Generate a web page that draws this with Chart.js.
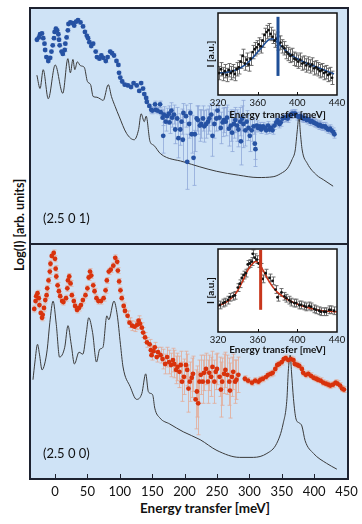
<!DOCTYPE html>
<html>
<head>
<meta charset="utf-8">
<script src="https://cdn.jsdelivr.net/npm/chart.js@4.4.1/dist/chart.umd.min.js"></script>
<style>
    body { margin: 0; width: 362px; height: 524px; background: #ffffff; position: relative; overflow: hidden; font-family: Lato, "DejaVu Sans", sans-serif; }
    #frame { position: absolute; left: 29px; top: 7px; width: 316px; height: 469px; border: 2px solid #1d2230; background: #cfe3f6; }
    #divider { position: absolute; left: 29px; top: 243px; width: 320px; height: 2px; background: #1d2230; z-index: 3; }
    canvas { position: absolute; }
    #topChart { left: 30px; top: 9px; z-index: 1; }
    #bottomChart { left: 0px; top: 245px; z-index: 1; }
    #topInset { left: 200px; top: 9px; z-index: 2; }
    #bottomInset { left: 200px; top: 245px; z-index: 2; }
    .panelLabel { position: absolute; left: 43px; font-size: 13px; color: #111; z-index: 4; }
    #yTitle { position: absolute; left: 19px; top: 225px; transform: translate(-50%, -50%) rotate(-90deg); white-space: nowrap; font-weight: bold; font-size: 12.5px; color: #111; }
    #xTitle { position: absolute; left: 0px; width: 410px; top: 500px; text-align: center; font-weight: bold; font-size: 13.5px; color: #111; }
</style>
</head>
<body>
<div id="frame"></div>
<canvas id="topChart" width="318" height="234"></canvas>
<canvas id="bottomChart" width="362" height="279"></canvas>
<canvas id="topInset" width="148" height="115"></canvas>
<canvas id="bottomInset" width="148" height="111"></canvas>
<div id="divider"></div>
<div class="panelLabel" style="top: 210px;">(2.5 0 1)</div>
<div class="panelLabel" style="top: 445px;">(2.5 0 0)</div>
<div id="yTitle">Log(I) [arb. units]</div>
<div id="xTitle">Energy transfer [meV]</div>

<script>
// oberes Panel (2.5 0 1): Messpunkte
const topEnergy = [
    -34, -31, -29, -26, -24, -22, -21, -19, -16, -13,
    -11, -9, -7, -6, -4, -2, 0, 1, 2, 5,
    7, 10, 11, 13, 15, 16, 19, 23, 25, 28,
    31, 35, 39, 42, 45, 47, 49, 52, 55, 59,
    61, 65, 68, 71, 75, 78, 82, 85, 88, 92,
    95, 96, 98, 101, 105, 110, 115, 119, 124, 128,
    131, 134, 136, 139, 140, 144, 147, 149, 153, 154,
    157, 161, 162, 165, 166, 167, 170, 172, 175, 176,
    179, 180, 183, 185, 188, 190, 193, 195, 197, 198,
    202, 204, 207, 209, 211, 214, 216, 219, 221, 224,
    226, 229, 231, 234, 237, 239, 242, 244, 247, 250,
    252, 255, 257, 260, 262, 265, 267, 270, 273, 275,
    278, 280, 283, 285, 288, 289, 291, 293, 296, 298,
    301, 303, 306, 309, 311, 312, 314, 316, 319, 321,
    324, 327, 329, 332, 334, 337, 339, 342, 345, 347,
    350, 352, 355, 358, 360, 363, 365, 368, 370, 373,
    375, 378, 381, 383, 386, 388, 391, 393, 396, 399,
    401, 404, 406, 409, 412, 414, 417, 419, 422, 424,
    427, 430, 432, 435, 437
];
const topIntensity = [
    201, 204, 208, 209, 203, 196, 188, 179, 174, 178,
    186, 194, 203, 211, 215, 213, 208, 201, 194, 186,
    183, 188, 196, 204, 213, 221, 223, 222, 219, 224,
    226, 223, 218, 211, 206, 203, 198, 193, 196, 186,
    179, 177, 181, 178, 174, 179, 186, 184, 181, 174,
    169, 159, 153, 148, 144, 143, 141, 146, 143, 136,
    146, 139, 132, 127, 122, 117, 112, 111, 119, 112,
    111, 119, 109, 102, 79, 106, 97, 104, 107, 96,
    111, 102, 106, 87, 101, 76, 87, 97, 74, 108,
    104, 46, 94, 108, 81, 51, 81, 101, 99, 92,
    94, 101, 91, 94, 97, 101, 106, 79, 94, 101,
    111, 102, 89, 96, 99, 97, 102, 88, 92, 83,
    94, 99, 92, 87, 97, 72, 101, 94, 86, 97,
    89, 79, 86, 91, 69, 62, 92, 89, 91, 87,
    91, 89, 86, 92, 87, 89, 86, 92, 96, 99,
    94, 96, 101, 102, 102, 101, 104, 106, 107, 107,
    107, 104, 103, 104, 102, 101, 101, 99, 100, 97,
    98, 96, 95, 94, 92, 93, 91, 91, 91, 89,
    87, 88, 86, 84, 81
];
const topError = [
    2, 2, 2, 2, 2, 2, 2, 2, 2, 2,
    2, 2, 2, 2, 2, 2, 2, 2, 2, 2,
    2, 2, 2, 2, 2, 2, 2, 2, 2, 2,
    2, 2, 2, 2, 2, 2, 2, 2, 2, 2,
    2, 2, 2, 2, 2, 2, 2, 2, 2, 2,
    2, 2, 2, 2, 2, 2, 2, 2, 2, 2,
    2, 2, 2, 2, 2, 2, 4, 4, 4, 4,
    4, 4, 4, 10, 22, 10, 12, 10, 10, 14,
    10, 12, 12, 18, 14, 25, 20, 16, 28, 12,
    14, 35, 18, 12, 24, 35, 22, 16, 18, 20,
    18, 16, 20, 18, 16, 16, 14, 26, 18, 16,
    12, 16, 20, 18, 16, 18, 16, 22, 20, 24,
    18, 16, 20, 22, 18, 30, 16, 30, 20, 14,
    16, 20, 14, 10, 20, 22, 6, 5, 5, 5,
    5, 5, 5, 5, 5, 5, 5, 5, 5, 5,
    5, 5, 5, 5, 5, 5, 5, 5, 5, 5,
    5, 5, 5, 5, 5, 5, 5, 5, 5, 5,
    5, 5, 5, 5, 5, 5, 5, 5, 5, 5,
    5, 5, 5, 5, 5
];
// oberes Panel: berechnete Kurve
const topSimEnergy = [
    -34, -29, -24, -16, -5, 7, 15, 19, 23, 26,
    30, 35, 41, 46, 51, 55, 61, 66, 71, 79,
    84, 90, 96, 108, 120, 127, 131, 136, 139, 145,
    151, 162, 198, 250, 285, 316, 340, 352, 363, 370,
    375, 378, 381, 383, 386, 394, 409, 420, 435
];
const topSimIntensity = [
    156, 139, 163, 126, 169, 133, 177, 159, 176, 163,
    173, 168, 166, 148, 144, 129, 128, 126, 124, 144,
    129, 116, 104, 82, 74, 87, 107, 97, 104, 72,
    67, 56, 46, 34, 29, 26, 27, 31, 38, 49,
    61, 84, 104, 84, 61, 44, 29, 23, 15
];

// unteres Panel (2.5 0 0): Messpunkte
const bottomEnergy = [
    -32, -30, -29, -27, -25, -24, -22, -20, -19, -17,
    -15, -13, -12, -10, -8, -7, -5, -2, 0, 1,
    2, 4, 6, 8, 11, 13, 17, 19, 20, 22,
    24, 26, 29, 31, 34, 37, 40, 43, 47, 50,
    52, 54, 56, 59, 61, 64, 67, 71, 75, 78,
    80, 83, 86, 90, 93, 96, 97, 99, 101, 103,
    106, 108, 112, 115, 119, 123, 127, 129, 131, 134,
    136, 139, 142, 146, 148, 149, 152, 154, 157, 159,
    163, 166, 170, 173, 176, 179, 182, 184, 187, 189,
    192, 194, 196, 199, 202, 204, 206, 208, 211, 213,
    217, 219, 221, 223, 225, 228, 230, 233, 236, 238,
    241, 243, 246, 248, 250, 254, 256, 258, 261, 263,
    266, 269, 270, 273, 275, 278, 280, 283, 293, 298,
    304, 309, 314, 317, 321, 326, 329, 333, 336, 340,
    343, 346, 350, 353, 356, 360, 364, 368, 370, 374,
    377, 381, 383, 387, 391, 395, 399, 403, 406, 410,
    414, 418, 422, 425, 429, 433, 436, 440, 443, 446
];
const bottomIntensity = [
    173, 181, 186, 189, 184, 177, 169, 164, 167, 174,
    182, 187, 194, 202, 211, 219, 227, 230, 224, 214,
    206, 197, 191, 186, 181, 180, 184, 194, 202, 206,
    199, 187, 181, 176, 172, 174, 177, 182, 187, 194,
    205, 211, 207, 197, 191, 184, 181, 181, 184, 192,
    202, 211, 213, 217, 225, 221, 212, 201, 192, 184,
    176, 171, 166, 159, 156, 155, 157, 161, 158, 154,
    149, 144, 139, 137, 131, 126, 130, 134, 124, 129,
    126, 122, 117, 124, 119, 116, 121, 117, 111, 114,
    109, 116, 99, 104, 116, 111, 92, 99, 103, 107,
    81, 89, 77, 99, 106, 99, 108, 112, 99, 108,
    104, 114, 99, 109, 112, 104, 91, 99, 107, 111,
    106, 99, 90, 104, 109, 99, 101, 106, 102, 100,
    98, 100, 99, 101, 102, 104, 106, 107, 108, 112,
    116, 117, 119, 122, 123, 121, 122, 121, 117, 116,
    115, 112, 108, 106, 107, 105, 103, 102, 101, 100,
    98, 97, 96, 95, 96, 98, 97, 95, 92, 91
];
const bottomError = [
    3, 3, 3, 3, 3, 3, 3, 3, 3, 3,
    3, 3, 3, 3, 3, 3, 3, 3, 3, 3,
    3, 3, 3, 3, 3, 3, 3, 3, 3, 3,
    3, 3, 3, 3, 3, 3, 3, 3, 3, 3,
    3, 3, 3, 3, 3, 3, 3, 3, 3, 3,
    3, 3, 3, 3, 3, 3, 3, 3, 3, 3,
    3, 3, 5, 5, 5, 5, 5, 5, 5, 5,
    5, 5, 5, 5, 5, 5, 5, 5, 5, 5,
    8, 10, 10, 10, 12, 12, 12, 14, 14, 14,
    16, 14, 20, 18, 14, 16, 24, 20, 20, 18,
    30, 26, 32, 22, 20, 22, 18, 16, 22, 18,
    20, 16, 22, 18, 16, 20, 28, 24, 20, 18,
    20, 24, 28, 20, 18, 22, 20, 18, 3, 3,
    3, 3, 3, 3, 3, 3, 3, 3, 3, 3,
    3, 3, 3, 3, 3, 3, 3, 3, 3, 3,
    3, 3, 3, 3, 3, 3, 3, 3, 3, 3,
    3, 3, 3, 3, 3, 3, 3, 3, 3, 3
];
// unteres Panel: berechnete Kurve
const bottomSimEnergy = [
    -34, -31, -27, -24, -20, -16, -12, -8, -3, 2,
    7, 15, 20, 25, 30, 37, 43, 48, 52, 58,
    64, 69, 74, 80, 83, 91, 96, 101, 105, 116,
    126, 134, 140, 144, 148, 151, 154, 162, 177, 198,
    224, 250, 285, 306, 327, 342, 352, 358, 360, 363,
    365, 368, 372, 377, 381, 386, 399, 419, 435
];
const bottomSimIntensity = [
    101, 119, 137, 127, 111, 117, 132, 159, 181, 157,
    124, 134, 156, 137, 117, 129, 127, 147, 164, 149,
    119, 132, 134, 166, 162, 181, 167, 137, 114, 94,
    81, 87, 107, 89, 87, 85, 72, 62, 56, 48,
    40, 29, 22, 22, 26, 36, 56, 82, 109, 126,
    109, 82, 61, 57, 54, 39, 26, 16, 10
];

// Einsatz oben
const insetTopEnergy = [
    321, 323, 325, 327, 329, 331, 333, 335, 337, 339,
    341, 343, 345, 347, 349, 351, 353, 355, 357, 359,
    361, 363, 365, 367, 369, 371, 373, 375, 377, 379,
    381, 383, 385, 387, 389, 391, 393, 395, 397, 399,
    401, 403, 405, 407, 409, 411, 413, 415, 417, 419,
    421, 423, 425, 427, 429, 431, 433, 435
];
const insetTopIntensity = [
    23, 27, 22, 25, 21, 26, 23, 25, 22, 27,
    29, 35, 41, 33, 37, 32, 38, 45, 48, 50,
    53, 51, 57, 63, 66, 68, 64, 61, 57, 59,
    54, 55, 51, 49, 45, 43, 41, 42, 38, 37,
    35, 37, 33, 34, 31, 33, 30, 32, 28, 29,
    27, 25, 26, 23, 24, 21, 22, 18
];
const insetTopFitEnergy = [320, 330, 340, 348, 355, 360, 365, 370, 374, 378, 382, 386, 390, 395, 400, 410, 420, 430, 437];
const insetTopFit = [23, 24, 27, 32, 39, 45, 51, 57, 59, 57, 53, 49, 45, 41, 38, 33, 29, 25, 22];
const insetTopMarker = { energy: 380.5, from: 20, to: 82 };
const insetTopError = 7;

// Einsatz unten
const insetBottomEnergy = [
    322, 325, 327, 330, 332, 335, 337, 340, 342, 344,
    346, 348, 350, 352, 354, 355, 357, 359, 361, 363,
    365, 368, 372, 375, 378, 380, 384, 387, 389, 392,
    394, 397, 399, 402, 404, 407, 409, 412, 414, 417,
    419, 422, 424, 427, 429, 432, 434, 437
];
const insetBottomIntensity = [
    28, 30, 31, 33, 36, 37, 38, 46, 50, 56,
    59, 61, 70, 71, 73, 81, 77, 75, 71, 67,
    55, 61, 56, 53, 44, 36, 41, 37, 35, 33,
    31, 30, 30, 28, 28, 27, 26, 27, 26, 24,
    23, 22, 21, 21, 21, 23, 23, 22
];
const insetBottomFitEnergy = [320, 330, 338, 345, 350, 355, 358, 362, 366, 370, 375, 380, 388, 395, 405, 415, 425, 440];
const insetBottomFit = [27, 32, 40, 53, 64, 71, 73, 70, 63, 55, 47, 41, 35, 31, 27, 24, 22, 21];
const insetBottomMarker = { energy: 363, from: 23, to: 85 };
const insetBottomError = 4;

const mainTicks = [0, 50, 100, 150, 200, 250, 300, 350, 400, 450];
const insetTicks = [320, 360, 400, 440];

const FONT = 'Lato, "DejaVu Sans", sans-serif';

function toPoints(xs, ys)
{
    return xs.map((x, i) => ({ x: x, y: ys[i] }));
}

// Fehlerbalken hinter die Punkte zeichnen
const errorBarPlugin = {
    id: 'errorBars',
    beforeDatasetsDraw(chart)
    {
        const { ctx, chartArea, scales } = chart;
        ctx.save();
        ctx.beginPath();
        ctx.rect(chartArea.left, chartArea.top, chartArea.width, chartArea.height);
        ctx.clip();
        chart.data.datasets.forEach(ds =>
        {
            if (!ds.errors) return;
            ctx.strokeStyle = ds.errorColor;
            ctx.lineWidth = 1;
            ds.data.forEach((p, i) =>
            {
                const e = ds.errors[i];
                const x = Math.round(scales.x.getPixelForValue(p.x)) + 0.5;
                const y1 = scales.y.getPixelForValue(p.y + e);
                const y2 = scales.y.getPixelForValue(p.y - e);
                ctx.beginPath();
                ctx.moveTo(x, y1);
                ctx.lineTo(x, y2);
                ctx.moveTo(x - 2, y1);
                ctx.lineTo(x + 2, y1);
                ctx.moveTo(x - 2, y2);
                ctx.lineTo(x + 2, y2);
                ctx.stroke();
            });
        });
        ctx.restore();
    }
};

// Rahmen, Hintergrund und nach innen zeigende Striche
const framePlugin = {
    id: 'frame',
    beforeDraw(chart, args, opts)
    {
        if (!opts.fill) return;
        const { ctx, chartArea } = chart;
        ctx.save();
        ctx.fillStyle = opts.fill;
        ctx.fillRect(chartArea.left, chartArea.top, chartArea.width, chartArea.height);
        ctx.restore();
    },
    afterDraw(chart, args, opts)
    {
        const { ctx, chartArea } = chart;
        ctx.save();
        ctx.strokeStyle = opts.stroke || '#1d2230';
        if (opts.lineWidth)
        {
            ctx.lineWidth = opts.lineWidth;
            ctx.strokeRect(chartArea.left, chartArea.top, chartArea.width, chartArea.height);
        }
        if (opts.tickLength)
        {
            ctx.lineWidth = 1;
            chart.scales.x.ticks.forEach(t =>
            {
                const x = Math.round(chart.scales.x.getPixelForValue(t.value)) + 0.5;
                if (x <= chartArea.left + 2 || x >= chartArea.right - 2) return;
                ctx.beginPath();
                ctx.moveTo(x, chartArea.bottom);
                ctx.lineTo(x, chartArea.bottom - opts.tickLength);
                ctx.stroke();
            });
        }
        ctx.restore();
    }
};

Chart.register(errorBarPlugin, framePlugin);

function mainPanel(canvasId, points, errors, color, errorColor, sim, yMax, withAxis)
{
    const ctx = document.getElementById(canvasId).getContext('2d');
    return new Chart(ctx, {
        type: 'scatter',
        data: {
            datasets: [
                {
                    data: points,
                    errors: errors,
                    errorColor: errorColor,
                    backgroundColor: color,
                    borderWidth: 0,
                    pointRadius: 2.4,
                },
                {
                    data: sim,
                    showLine: true,
                    borderColor: '#3a3a3a',
                    borderWidth: 1,
                    pointRadius: 0,
                    cubicInterpolationMode: 'monotone',
                },
            ],
        },
        options: {
            responsive: false,
            devicePixelRatio: 1,
            animation: false,
            events: [],
            layout: { padding: withAxis ? { left: 30, right: 14, top: 0, bottom: 0 } : 0 },
            plugins: {
                legend: { display: false },
                tooltip: { enabled: false },
                frame: { tickLength: withAxis ? 5 : 0 },
            },
            scales: {
                x: {
                    type: 'linear',
                    min: -38.6,
                    max: 452.2,
                    display: withAxis,
                    grid: { display: false, drawTicks: false },
                    border: { display: false },
                    afterBuildTicks: scale => { scale.ticks = mainTicks.map(v => ({ value: v })); },
                    afterFit: scale => { scale.height = 45; scale.paddingLeft = 0; scale.paddingRight = 0; },
                    ticks: { padding: 5, color: '#111', font: { family: FONT, size: 13 } },
                },
                y: {
                    min: 0,
                    max: yMax,
                    display: false,
                },
            },
        },
    });
}

function insetPanel(canvasId, points, fit, marker, error, color, xAxisHeight, tickPad, titlePad)
{
    const ctx = document.getElementById(canvasId).getContext('2d');
    return new Chart(ctx, {
        type: 'scatter',
        data: {
            datasets: [
                {
                    data: [{ x: marker.energy, y: marker.from }, { x: marker.energy, y: marker.to }],
                    showLine: true,
                    borderColor: color,
                    borderWidth: 3,
                    pointRadius: 0,
                },
                {
                    data: points,
                    errors: points.map(() => error),
                    errorColor: '#6b6b6b',
                    backgroundColor: '#111',
                    borderWidth: 0,
                    pointRadius: 1.4,
                },
                {
                    data: fit,
                    showLine: true,
                    borderColor: color,
                    borderWidth: 1.6,
                    pointRadius: 0,
                    cubicInterpolationMode: 'monotone',
                },
            ],
        },
        options: {
            responsive: false,
            devicePixelRatio: 1,
            animation: false,
            events: [],
            layout: { padding: { left: 0, right: 11, top: 0, bottom: 0 } },
            plugins: {
                legend: { display: false },
                tooltip: { enabled: false },
                frame: { fill: '#ffffff', stroke: '#111', lineWidth: 1.5, tickLength: 3 },
            },
            scales: {
                x: {
                    type: 'linear',
                    min: 320,
                    max: 440,
                    grid: { display: false, drawTicks: false },
                    border: { display: false },
                    afterBuildTicks: scale => { scale.ticks = insetTicks.map(v => ({ value: v })); },
                    afterFit: scale => { scale.height = xAxisHeight; scale.paddingLeft = 0; scale.paddingRight = 0; },
                    ticks: { padding: tickPad, color: '#111', font: { family: FONT, size: 9.5 } },
                    title: {
                        display: true,
                        text: 'Energy transfer [meV]',
                        color: '#111',
                        padding: { top: 0, bottom: titlePad },
                        font: { family: FONT, size: 10, weight: 'bold' },
                    },
                },
                y: {
                    min: 0,
                    max: 86,
                    grid: { display: false, drawTicks: false },
                    border: { display: false },
                    ticks: { display: false },
                    afterFit: scale => { scale.width = 18; },
                    title: {
                        display: true,
                        text: 'I [a.u.]',
                        color: '#111',
                        padding: { top: 5, bottom: 0 },
                        font: { family: FONT, size: 10, weight: 'bold' },
                    },
                },
            },
        },
    });
}

document.addEventListener('DOMContentLoaded', function ()
{
    mainPanel('topChart', toPoints(topEnergy, topIntensity), topError, '#2652a3', 'rgba(140, 165, 215, 0.75)',
        toPoints(topSimEnergy, topSimIntensity), 235, false);
    mainPanel('bottomChart', toPoints(bottomEnergy, bottomIntensity), bottomError, '#d8320c', 'rgba(228, 170, 150, 0.8)',
        toPoints(bottomSimEnergy, bottomSimIntensity), 234, true);

    insetPanel('topInset', toPoints(insetTopEnergy, insetTopIntensity), toPoints(insetTopFitEnergy, insetTopFit),
        insetTopMarker, insetTopError, '#1f4f97', 29, 2, 3);
    insetPanel('bottomInset', toPoints(insetBottomEnergy, insetBottomIntensity), toPoints(insetBottomFitEnergy, insetBottomFit),
        insetBottomMarker, insetBottomError, '#c8361c', 24, 2, 0);
});
</script>
</body>
</html>
